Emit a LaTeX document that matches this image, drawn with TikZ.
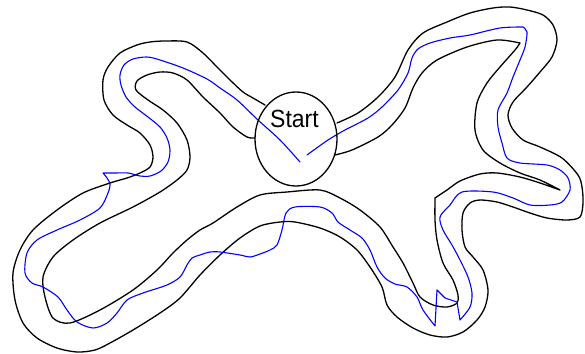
\documentclass[tikz,border=0pt]{standalone}
\usepackage{fontspec}
\newfontfamily\labelfont{Liberation Sans}
\usetikzlibrary{shapes.geometric}
\tikzset{
  wall/.style={draw=black,line width=1.3pt,line join=round,line cap=round},
  route/.style={draw=blue,line width=1.1pt,line join=round,line cap=round},
  startzone/.style={wall,ellipse,minimum width=82pt,minimum height=94pt,inner sep=0pt},
  startlabel/.style={inner sep=0pt,anchor=base,font=\labelfont\fontsize{23}{23}\selectfont}
}
\begin{document}
\begin{tikzpicture}[x=1pt,y=-1pt]
\useasboundingbox (0,0) rectangle (585,353);
% outer wall
\draw[wall] plot[smooth] coordinates {(265,105) (253,98) (243,92) (230,80) (217,67) (203,53) (187,42) (165,41) (150,42) (137,45) (120,53) (108,67) (103,80) (104,100) (113,115) (127,125) (140,133) (150,145) (153,157) (150,167) (140,173) (127,178) (110,183) (83,193) (57,210) (33,230) (20,250) (13,273) (15,300) (23,323) (37,338) (57,348) (77,352) (95,350) (110,343) (133,330) (160,313) (180,298) (200,275) (220,255) (240,238) (260,226) (280,222) (295,222) (320,228) (340,237) (357,250) (370,267) (382,287) (387,305) (397,317) (413,328) (430,335) (447,337) (463,332) (477,320) (485,307) (488,290) (483,270) (473,257) (465,247) (462,230) (463,213) (470,203) (480,200) (497,202) (513,207) (530,213) (547,218) (567,220) (580,217) (583,203) (582,187) (578,175) (562,158) (540,147) (523,140) (512,128) (508,115) (513,102) (527,87) (540,72) (552,57) (557,40) (553,25) (543,15) (527,10) (510,7) (493,8) (470,13) (447,22) (423,33) (408,50) (395,77) (378,97) (358,113) (337,123)};
% inner wall
\draw[wall] plot[smooth] coordinates {(255,138) (247,137) (233,127) (220,113) (203,97) (187,80) (173,73) (160,72) (147,75) (137,81) (136,90) (148,100) (163,110) (177,123) (187,140) (190,157) (187,170) (177,180) (160,192) (133,207) (100,223) (73,240) (53,257) (43,277) (45,297) (53,318) (70,323) (100,310) (133,290) (157,270) (173,253) (187,240) (200,230) (213,223) (237,207) (260,195) (287,192) (320,190) (340,198) (360,210) (380,227) (393,247) (403,263) (413,283) (420,297) (433,305) (447,307) (457,303) (458,295) (453,280) (443,263) (437,240) (435,220) (435,198)}
  -- plot[smooth] coordinates {(435,198) (447,190) (460,181) (480,174) (497,173) (520,177) (540,183) (560,190)}
  -- plot[smooth] coordinates {(560,190) (540,180) (520,173) (500,163) (483,150) (475,130) (477,103) (487,83) (500,67) (515,50) (520,43)}
  -- plot[smooth] coordinates {(520,43) (497,40) (467,47) (437,60) (422,73) (413,88) (405,108) (392,125) (378,137) (352,150) (335,155)};
% route
\draw[route] plot[smooth] coordinates {(300,162) (280,140) (258,120) (237,100) (220,88) (207,79) (183,68) (160,60) (147,57) (133,59) (124,65) (120,75) (121,85) (126,97) (135,107) (148,117) (160,127) (167,138) (170,150) (168,162) (161,171) (150,176) (140,176) (128,173) (115,173) (103,173)}
  -- plot[smooth] coordinates {(103,173) (107,178) (110,184) (108,193) (100,208) (80,220) (57,230) (37,240) (27,253) (25,273) (32,283) (43,287) (58,297) (67,310) (77,322) (93,328) (107,323) (117,313) (127,300) (143,293) (167,285) (180,277) (187,265) (192,258) (200,255) (210,252) (220,252) (240,255) (250,257) (260,254) (270,250) (277,245) (282,230) (286,213) (295,207) (320,207) (332,213) (338,222) (350,230) (362,238) (370,250) (377,267) (385,278) (395,284) (407,287) (417,297) (423,310) (435,326)}
  -- (437,290) -- (445,298) -- (457,302) -- (460,320)
  -- plot[smooth] coordinates {(460,320) (470,307) (472,293) (468,277) (460,260) (452,245) (443,230) (440,217) (450,205) (462,192) (493,192) (513,198) (530,205) (550,205) (562,202) (570,190) (568,178) (560,170) (547,165) (520,163) (507,158) (502,143) (498,127) (498,110) (507,93) (513,77) (520,60) (525,47) (527,32) (523,27)}
  -- plot[smooth] coordinates {(523,27) (500,28) (470,35) (450,38) (430,43) (418,49) (412,58) (408,73) (398,90) (382,107) (368,118) (345,130) (328,140) (307,155)};
% start area
\node[startzone] (start) at (296,139) {};
\node[startlabel] (startname) at (294.5,127) {\scalebox{1}[1.08]{Start}};
\end{tikzpicture}
\end{document}
